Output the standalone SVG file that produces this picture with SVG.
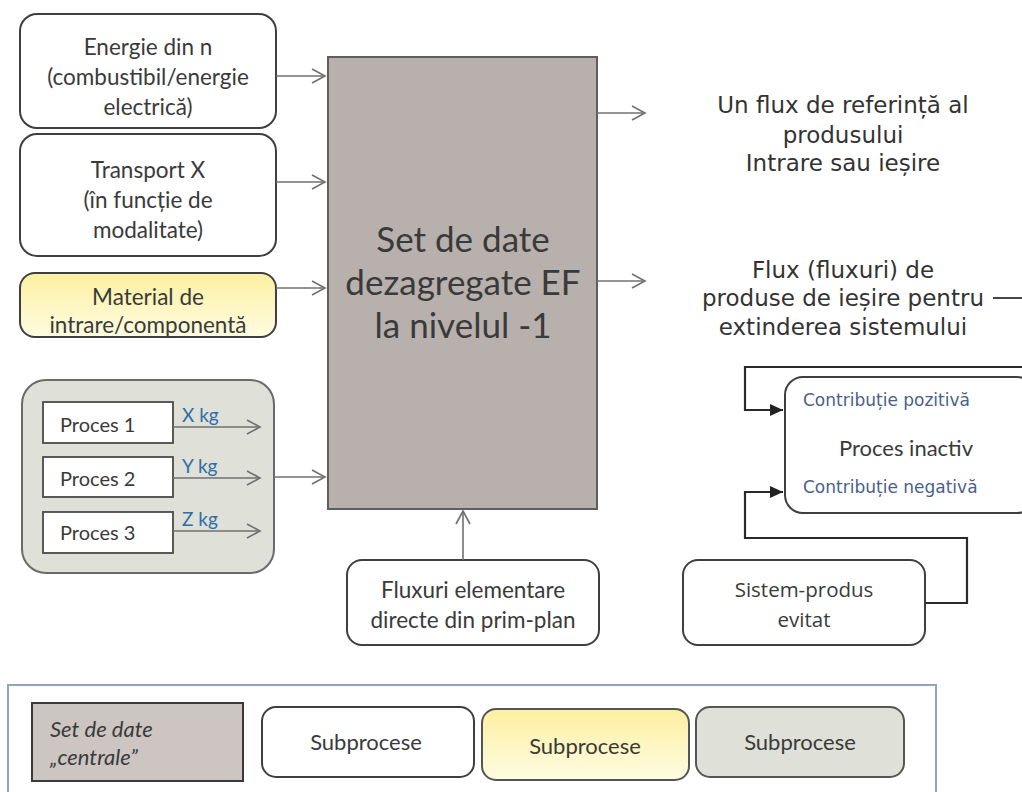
<svg xmlns="http://www.w3.org/2000/svg" width="1022" height="792" viewBox="0 0 1022 792">
<defs>
<marker id="open" markerUnits="userSpaceOnUse" markerWidth="16" markerHeight="16" refX="14" refY="8" orient="auto">
<path d="M1,1 L14,8 L1,15" fill="none" stroke="#707070" stroke-width="1.6"/>
</marker>
<marker id="solid" markerUnits="userSpaceOnUse" markerWidth="14" markerHeight="12" refX="13" refY="6" orient="auto">
<path d="M0,0 L13,6 L0,12 Z" fill="#222"/>
</marker>
<linearGradient id="yel" x1="0" y1="0" x2="0" y2="1">
<stop offset="0" stop-color="#fcf0a0"/>
<stop offset="1" stop-color="#fffce2"/>
</linearGradient>
</defs>
<style>
.box{fill:#fff;stroke:#3f3f3f;stroke-width:2}
.cal{font-family:Lato,"Open Sans","Liberation Sans",sans-serif;fill:#3a3a3a;text-anchor:middle}
.ver{font-family:"DejaVu Sans",Verdana,sans-serif;fill:#333;text-anchor:middle;font-size:23px}
.start{text-anchor:start}
.conn{fill:none;stroke:#707070;stroke-width:1.6}
.blk{fill:none;stroke:#2a2a2a;stroke-width:2.2}
.kg{font-family:Lato,"Open Sans",sans-serif;fill:#2e6ea8;font-size:19px}
.contr{font-family:"DejaVu Sans",Verdana,sans-serif;fill:#4a5f8c;font-size:17px}
</style>
<rect width="1022" height="792" fill="#fff"/>

<g id="energie">
<rect class="box" x="20" y="14" width="256" height="114" rx="17"/>
<text class="cal" font-size="22.5" x="148" y="55">Energie din n</text>
<text class="cal" font-size="22.5" x="148" y="85">(combustibil/energie</text>
<text class="cal" font-size="22.5" x="148" y="115">electrică)</text>
</g>

<g id="transport">
<rect class="box" x="20" y="134" width="256" height="122" rx="17"/>
<text class="cal" font-size="22.5" x="148" y="178">Transport X</text>
<text class="cal" font-size="22.5" x="148" y="208">(în funcție de</text>
<text class="cal" font-size="22.5" x="148" y="238">modalitate)</text>
</g>

<g id="material">
<rect x="20" y="273" width="256" height="64" rx="15" fill="url(#yel)" stroke="#3f3f3f" stroke-width="2"/>
<text class="cal" font-size="22.5" x="148" y="305">Material de</text>
<text class="cal" font-size="22.5" x="148" y="333">intrare/componentă</text>
</g>

<g id="procese">
<rect x="22" y="380" width="252" height="193" rx="24" fill="#dfe0d7" stroke="#6a6a6a" stroke-width="2"/>
<rect x="43" y="402" width="130" height="41" fill="#fff" stroke="#4a4a4a" stroke-width="1.8"/>
<text class="cal start" font-size="20" x="60" y="432">Proces 1</text>
<rect x="43" y="457" width="130" height="40" fill="#fff" stroke="#4a4a4a" stroke-width="1.8"/>
<text class="cal start" font-size="20" x="60" y="486">Proces 2</text>
<rect x="43" y="512" width="130" height="41" fill="#fff" stroke="#4a4a4a" stroke-width="1.8"/>
<text class="cal start" font-size="20" x="60" y="540">Proces 3</text>
<text class="kg" x="182" y="422">X kg</text>
<text class="kg" x="182" y="473">Y kg</text>
<text class="kg" x="182" y="526">Z kg</text>
<line class="conn" x1="173" y1="427" x2="260" y2="427" marker-end="url(#open)"/>
<line class="conn" x1="173" y1="478" x2="260" y2="478" marker-end="url(#open)"/>
<line class="conn" x1="173" y1="531" x2="260" y2="531" marker-end="url(#open)"/>
</g>

<g id="central">
<rect x="328" y="57" width="269" height="452" fill="#b7b0ad" stroke="#5e5e5e" stroke-width="2"/>
<text class="cal" font-size="35" x="463" y="252" fill="#333">Set de date</text>
<text class="cal" font-size="35" x="463" y="295" fill="#333">dezagregate EF</text>
<text class="cal" font-size="35" x="463" y="338" fill="#333">la nivelul -1</text>
</g>

<g id="fluxuri">
<rect class="box" x="347" y="560" width="252" height="85" rx="15"/>
<text class="cal" font-size="22.5" x="473" y="598">Fluxuri elementare</text>
<text class="cal" font-size="22.5" x="473" y="628">directe din prim-plan</text>
</g>

<g id="referinta">
<text class="ver" x="843" y="113">Un flux de referință al</text>
<text class="ver" x="843" y="143">produsului</text>
<text class="ver" x="843" y="171">Intrare sau ieșire</text>
</g>

<g id="extindere">
<text class="ver" x="843" y="278">Flux (fluxuri) de</text>
<text class="ver" x="843" y="306">produse de ieșire pentru</text>
<text class="ver" x="843" y="335">extinderea sistemului</text>
</g>

<g id="inactiv">
<rect class="box" x="785" y="377" width="250" height="136" rx="18" stroke="#2a2a2a"/>
<text class="contr" x="803" y="406">Contribuție pozitivă</text>
<text class="cal" font-size="22" x="906" y="456" fill="#222">Proces inactiv</text>
<text class="contr" x="803" y="493">Contribuție negativă</text>
</g>

<g id="evitat">
<rect class="box" x="683" y="560" width="242" height="85" rx="15" stroke="#2a2a2a"/>
<text class="cal" font-size="20.5" x="804" y="597" style="font-family:'Open Sans',sans-serif" fill="#333">Sistem-produs</text>
<text class="cal" font-size="20.5" x="804" y="627" style="font-family:'Open Sans',sans-serif" fill="#333">evitat</text>
</g>

<g id="connectors">
<line class="conn" x1="276" y1="76" x2="325" y2="76" marker-end="url(#open)"/>
<line class="conn" x1="276" y1="182" x2="325" y2="182" marker-end="url(#open)"/>
<line class="conn" x1="276" y1="288" x2="325" y2="288" marker-end="url(#open)"/>
<line class="conn" x1="274" y1="477" x2="325" y2="477" marker-end="url(#open)"/>
<line class="conn" x1="597" y1="113" x2="645" y2="113" marker-end="url(#open)"/>
<line class="conn" x1="597" y1="281" x2="645" y2="281" marker-end="url(#open)"/>
<line class="conn" x1="463" y1="560" x2="463" y2="511" marker-end="url(#open)"/>
<line x1="993" y1="298" x2="1022" y2="298" stroke="#333" stroke-width="1.8"/>
<polyline class="blk" points="1022,367 745,367 745,410 783,410" marker-end="url(#solid)"/>
<polyline class="blk" points="925,603 967,603 967,538 745,538 745,492 783,492" marker-end="url(#solid)"/>
</g>

<g id="legend">
<rect x="8" y="685" width="928" height="120" fill="none" stroke="#8fa3c4" stroke-width="2"/>
<rect x="32" y="703" width="211" height="78" fill="#cdc5c2" stroke="#3a3a3a" stroke-width="2"/>
<text class="cal start" font-size="22" font-style="italic" x="50" y="737">Set de date</text>
<text class="cal start" font-size="22" font-style="italic" x="50" y="765">„centrale”</text>
<rect class="box" x="262" y="707" width="212" height="70" rx="14" stroke="#555"/>
<text class="cal" font-size="22" x="366" y="750">Subprocese</text>
<rect x="482" y="709" width="207" height="71" rx="14" fill="url(#yel)" stroke="#555" stroke-width="2"/>
<text class="cal" font-size="22" x="585" y="754">Subprocese</text>
<rect x="696" y="707" width="208" height="70" rx="14" fill="#dfe0d7" stroke="#555" stroke-width="2"/>
<text class="cal" font-size="22" x="800" y="750">Subprocese</text>
</g>
</svg>
